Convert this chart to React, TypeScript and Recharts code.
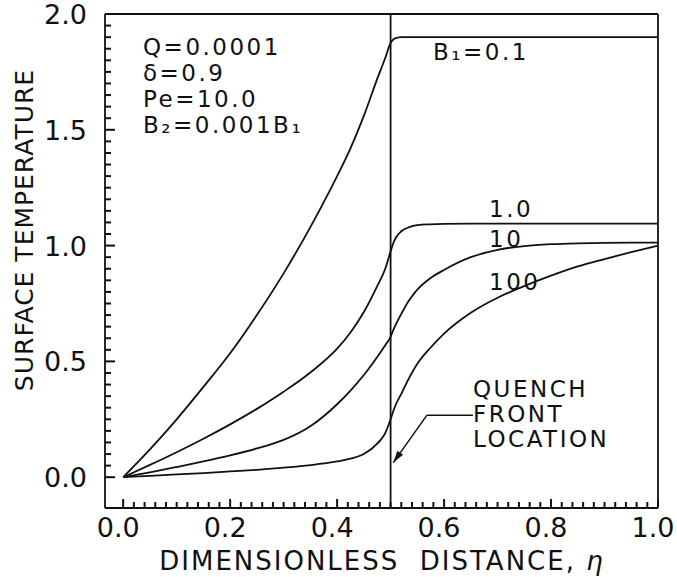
import { LineChart, Line, XAxis, YAxis, ReferenceLine } from 'recharts'

// dimensionless distance grid shared by all curves
const ETA = [0, 0.05, 0.1, 0.15, 0.2, 0.25, 0.3, 0.35, 0.4, 0.425, 0.45, 0.475, 0.49, 0.5,
  0.505, 0.51, 0.52, 0.535, 0.55, 0.575, 0.6, 0.65, 0.7, 0.75, 0.8, 0.85, 0.9, 0.95, 1.0]

// surface temperature for each Biot number B1
const B01 = [0, 0.12, 0.25, 0.39, 0.535, 0.7, 0.88, 1.08, 1.3, 1.42, 1.56, 1.72, 1.81, 1.875,
  1.89, 1.896, 1.9, 1.9, 1.9, 1.9, 1.9, 1.9, 1.9, 1.9, 1.9, 1.9, 1.9, 1.9, 1.9]
const B1 = [0, 0.053, 0.108, 0.166, 0.228, 0.295, 0.369, 0.452, 0.555, 0.625, 0.713, 0.825, 0.9, 0.975,
  1.01, 1.035, 1.062, 1.08, 1.088, 1.092, 1.094, 1.095, 1.095, 1.095, 1.095, 1.095, 1.095, 1.095, 1.095]
const B10 = [0, 0.021, 0.044, 0.068, 0.094, 0.124, 0.161, 0.22, 0.315, 0.374, 0.441, 0.519, 0.57, 0.606,
  0.635, 0.66, 0.705, 0.765, 0.81, 0.86, 0.895, 0.95, 0.982, 0.998, 1.006, 1.01, 1.012, 1.013, 1.013]
const B100 = [0, 0.006, 0.012, 0.018, 0.025, 0.032, 0.041, 0.052, 0.068, 0.08, 0.1, 0.145, 0.19, 0.25,
  0.285, 0.315, 0.36, 0.43, 0.49, 0.56, 0.62, 0.71, 0.775, 0.825, 0.87, 0.91, 0.942, 0.972, 1.0]

const SERIES = ['b01', 'b1', 'b10', 'b100']

const X_DOMAIN = [-0.034, 1.0]
const Y_DOMAIN = [-0.133, 2.0]
const X_TICKS = Array.from({ length: 51 }, (_, i) => i / 50)
const Y_TICKS = Array.from({ length: 41 }, (_, i) => i / 20)

const QUENCH_FRONT = 0.5
// leader from the "FRONT" label down to the quench front
const LEADER_H = [{ x: 0.654, y: 0.268 }, { x: 0.568, y: 0.268 }]
const LEADER_D = [{ x: 0.568, y: 0.268 }, { x: 0.505, y: 0.063 }]

const data = ETA.map((eta, i) => ({
  eta,
  b01: B01[i],
  b1: B1[i],
  b10: B10[i],
  b100: B100[i],
}))

const FONT = '"DejaVu Sans", sans-serif'
const INK = '#111'
const LW = 1.8

const isMult = (v: number, step: number) => Math.abs(v / step - Math.round(v / step)) < 1e-6

// tickSize/tickMargin are 0, so x,y arrive on the axis line; ticks point inward
function XTick(props: any) {
  const { x, y, payload } = props
  const major = isMult(payload.value, 0.2)
  return (
    <g>
      <line x1={x} y1={y} x2={x} y2={y - (major ? 9 : 6)} stroke={INK} strokeWidth={2} />
      {major && (
        <text x={x - 5} y={y + 29} textAnchor="middle" fontSize={27} fontFamily={FONT} fill={INK}>
          {payload.value.toFixed(1)}
        </text>
      )}
    </g>
  )
}

function YTick(props: any) {
  const { x, y, payload } = props
  const major = isMult(payload.value, 0.5)
  return (
    <g>
      <line x1={x} y1={y} x2={x + (major ? 10 : 6)} y2={y} stroke={INK} strokeWidth={2} />
      {major && (
        <text x={x - 18} y={y + 10} textAnchor="end" fontSize={27} fontFamily={FONT} fill={INK}>
          {payload.value.toFixed(1)}
        </text>
      )}
    </g>
  )
}

function ArrowLine(props: any) {
  const { x1, y1, x2, y2 } = props
  const ang = Math.atan2(y2 - y1, x2 - x1)
  const len = 12
  const w = 3.5
  const bx = x2 - len * Math.cos(ang)
  const by = y2 - len * Math.sin(ang)
  const px = -Math.sin(ang) * w
  const py = Math.cos(ang) * w
  return (
    <g>
      <line x1={x1} y1={y1} x2={x2} y2={y2} stroke={INK} strokeWidth={1.5} />
      <polygon points={`${x2},${y2} ${bx + px},${by + py} ${bx - px},${by - py}`} fill={INK} />
    </g>
  )
}

const annot = { fontSize: 23, fontFamily: FONT, fill: INK, letterSpacing: 2.5 }

export default function App() {
  return (
    <div style={{ position: 'absolute', left: 0, top: 0, width: 677, height: 577, background: '#fff' }}>
      <LineChart
        width={677}
        height={577}
        data={data}
        margin={{ top: 14, right: 19, bottom: 0, left: 0 }}
      >
        <XAxis
          dataKey="eta"
          type="number"
          domain={X_DOMAIN}
          ticks={X_TICKS}
          interval={0}
          allowDataOverflow
          height={69}
          tickSize={0}
          tickMargin={0}
          tickLine={false}
          tick={<XTick />}
          axisLine={{ stroke: INK, strokeWidth: LW }}
        />
        <YAxis
          type="number"
          domain={Y_DOMAIN}
          ticks={Y_TICKS}
          interval={0}
          allowDataOverflow
          width={105}
          tickSize={0}
          tickMargin={0}
          tickLine={false}
          tick={<YTick />}
          axisLine={{ stroke: INK, strokeWidth: LW }}
        />
        <ReferenceLine y={2.0} stroke={INK} strokeWidth={LW} />
        <ReferenceLine x={1.0} stroke={INK} strokeWidth={LW} />
        <ReferenceLine x={QUENCH_FRONT} stroke={INK} strokeWidth={LW} />
        <ReferenceLine segment={LEADER_H} stroke={INK} strokeWidth={1.5} />
        <ReferenceLine segment={LEADER_D} shape={<ArrowLine />} />
        {SERIES.map(k => (
          <Line
            key={k}
            dataKey={k}
            type="monotone"
            stroke={INK}
            strokeWidth={LW}
            dot={false}
            activeDot={false}
            isAnimationActive={false}
          />
        ))}

        <text {...annot} x={143} y={55}>Q=0.0001</text>
        <text {...annot} x={143} y={81}>δ=0.9</text>
        <text {...annot} x={143} y={107}>Pe=10.0</text>
        <text {...annot} x={143} y={133}>B₂=0.001B₁</text>

        <text {...annot} x={433} y={60}>B₁=0.1</text>
        <text {...annot} x={489} y={217}>1.0</text>
        <text {...annot} x={489} y={247}>10</text>
        <text {...annot} x={489} y={290}>100</text>

        <text {...annot} x={473} y={397}>QUENCH</text>
        <text {...annot} x={473} y={422}>FRONT</text>
        <text {...annot} x={473} y={447}>LOCATION</text>

        <text
          x={33}
          y={230}
          transform="rotate(-90, 33, 230)"
          textAnchor="middle"
          fontSize={25}
          fontFamily={FONT}
          fill={INK}
          letterSpacing={1}
        >
          SURFACE TEMPERATURE
        </text>
        <text
          x={382}
          y={570}
          textAnchor="middle"
          fontSize={26}
          fontFamily={FONT}
          fill={INK}
          letterSpacing={2}
          style={{ whiteSpace: 'pre' }}
        >
          {'DIMENSIONLESS  DISTANCE, '}
          <tspan fontStyle="italic">η</tspan>
        </text>
      </LineChart>
    </div>
  )
}
